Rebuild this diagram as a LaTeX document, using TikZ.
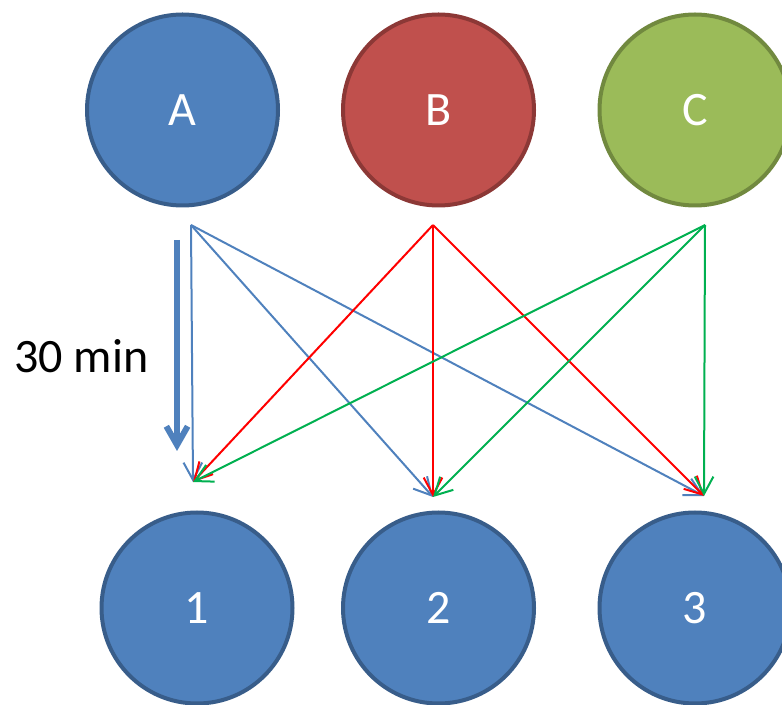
\documentclass[tikz,border=0pt]{standalone}
\usepackage{fontspec}
\setmainfont{Carlito}
\usetikzlibrary{arrows.meta}
\definecolor{blueF}{HTML}{4F81BD}
\definecolor{blueD}{HTML}{385D8A}
\definecolor{redF}{HTML}{C0504D}
\definecolor{redD}{HTML}{8C3836}
\definecolor{greenF}{HTML}{9BBB59}
\definecolor{greenD}{HTML}{71893F}
\definecolor{lineR}{HTML}{FF0000}
\definecolor{lineG}{HTML}{00B050}
\tikzset{
  ball/.style={circle, minimum size=143.25pt, inner sep=0pt, line width=3pt,
    text=white, font=\fontsize{36}{40}\selectfont},
  link/.style={line width=1.5pt, -{Straight Barb[length=13pt,width=14pt,line width=1.5pt]}},
}
\begin{document}
\begin{tikzpicture}[x=0.75pt,y=-0.75pt]
\useasboundingbox (0,0) rectangle (782,705);
\node[ball, fill=blueF, draw=blueD] (A) at (182.5,110) {A};
\node[ball, fill=redF, draw=redD] (B) at (438.5,110) {B};
\node[ball, fill=greenF, draw=greenD] (C) at (695,110) {C};
\node[ball, fill=blueF, draw=blueD] (N1) at (197,608) {1};
\node[ball, fill=blueF, draw=blueD] (N2) at (438.5,608) {2};
\node[ball, fill=blueF, draw=blueD] (N3) at (695,608) {3};
\coordinate (Aout) at (191,225);
\coordinate (Bout) at (433,225);
\coordinate (Cout) at (705,225);
\coordinate (In1) at (193,482);
\coordinate (In2) at (433,497);
\coordinate (In3) at (704,496);
\coordinate (Tstart) at (177,240);
\coordinate (Tend) at (177,451);
\draw[link, blueF] (Aout) -- (In1);
\draw[link, blueF] (Aout) -- (In2);
\draw[link, blueF] (Aout) -- (In3);
\draw[link, lineR] (Bout) -- (In1);
\draw[link, lineR] (Bout) -- (In2);
\draw[link, lineR] (Bout) -- (In3);
\draw[link, lineG] (Cout) -- (In1);
\draw[link, lineG] (Cout) -- (In2);
\draw[link, lineG] (Cout) -- (In3);
\draw[blueF, line width=4.5pt, -{Straight Barb[length=14pt,width=16pt,line width=4.5pt]}] (Tstart) -- (Tend);
\node[font=\fontsize{36}{40}\selectfont, anchor=west, inner sep=0pt] (lbl) at (14,356) {30 min};
\end{tikzpicture}
\end{document}
